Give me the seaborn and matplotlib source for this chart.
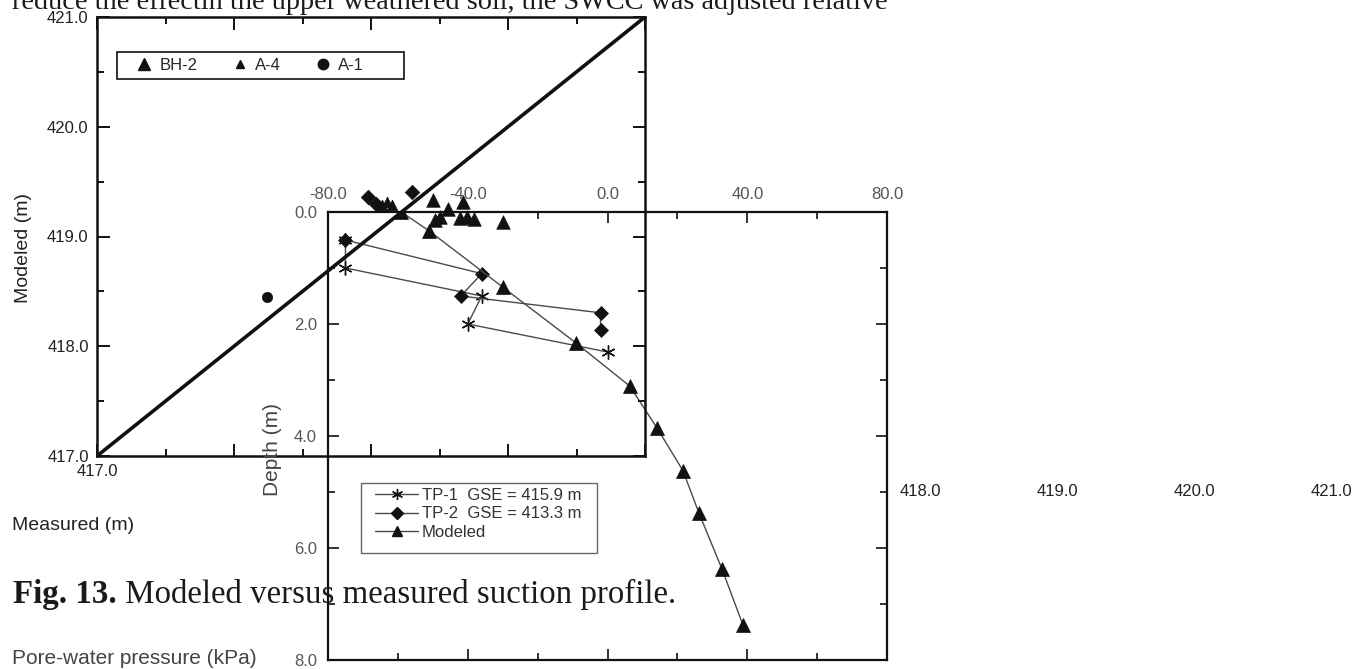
import matplotlib
matplotlib.use("Agg")
import matplotlib.pyplot as plt
import seaborn as sns
from matplotlib.ticker import MultipleLocator, FuncFormatter
from matplotlib.lines import Line2D
from matplotlib.patches import Rectangle
from matplotlib.transforms import offset_copy

# ---- water-table elevation (m): measured vs modeled ----
bh2_measured = [419.45, 419.67, 419.56, 419.50, 419.47, 419.65, 419.70, 419.75, 419.96]
bh2_modeled = [419.33, 419.31, 419.25, 419.18, 419.15, 419.17, 419.18, 419.16, 419.13]
a4_measured = [419.08, 419.12, 419.15]
a4_modeled = [419.29, 419.31, 419.29]
diamond_measured = [418.98, 419.30, 419.04]
diamond_modeled = [419.36, 419.41, 419.30]
a1_measured = [418.24]
a1_modeled = [418.45]
one_to_one = [417.0, 421.0]
elev_ticks = [417.0, 418.0, 419.0, 420.0, 421.0]

# ---- suction profile: pore-water pressure (kPa) vs depth (m) ----
tp1_pressure = [-75, -75, -36, -40, 0]
tp1_depth = [0.5, 1.0, 1.5, 2.0, 2.5]
tp2_pressure = [-75, -36, -42, -2, -2]
tp2_depth = [0.5, 1.1, 1.5, 1.8, 2.1]
mod_pressure = [-59, -51, -30, -9, 6.4, 14.2, 21.6, 26.2, 32.8, 38.8]
mod_depth = [0.0, 0.34, 1.34, 2.34, 3.11, 3.86, 4.62, 5.38, 6.38, 7.38]
profile_labels = ["TP-1  GSE = 415.9 m", "TP-2  GSE = 413.3 m", "Modeled"]

sns.set_style("white")
plt.rcParams["font.family"] = ["Liberation Sans", "DejaVu Sans"]

W, H = 1354, 669
fig = plt.figure(figsize=(W / 100, H / 100), dpi=100)
fig.patch.set_facecolor("white")


def fx(px):
    return px / W


def fy(py):
    return 1 - py / H


ink = "#111111"
grey_line = "#4a4a4a"
grey_text = "#555555"

ax2 = fig.add_axes([fx(328), fy(660), 559 / W, 448 / H], zorder=1)
ax1 = fig.add_axes([fx(97), fy(456), 548 / W, 439 / H], zorder=2)
for ax in (ax1, ax2):
    ax.set_facecolor("none")

# ---------- suction profile ----------
sns.lineplot(x=tp1_pressure, y=tp1_depth, sort=False, estimator=None, orient="y",
             ax=ax2, color=grey_line, lw=1.0, marker=(6, 2, 0), markersize=10,
             mec=ink, mew=1.0, legend=False)
sns.lineplot(x=tp2_pressure, y=tp2_depth, sort=False, estimator=None, orient="y",
             ax=ax2, color=grey_line, lw=1.0, marker="D", markersize=7.5,
             mfc=ink, mec=ink, mew=0.5, legend=False)
sns.lineplot(x=mod_pressure, y=mod_depth, sort=False, estimator=None, orient="y",
             ax=ax2, color=grey_line, lw=1.0, marker="^", markersize=10,
             mfc=ink, mec=ink, mew=0.5, legend=False)

ax2.set_xlim(-80, 80)
ax2.set_ylim(8, 0)
ax2.xaxis.set_major_locator(MultipleLocator(40))
ax2.xaxis.set_minor_locator(MultipleLocator(20))
ax2.yaxis.set_major_locator(MultipleLocator(2))
ax2.yaxis.set_minor_locator(MultipleLocator(1))
fmt1 = FuncFormatter(lambda v, p: "0.0" if abs(v) < 1e-9 else f"{v:.1f}")
ax2.xaxis.set_major_formatter(fmt1)
ax2.yaxis.set_major_formatter(fmt1)
ax2.tick_params(which="both", direction="in", top=True, bottom=True, left=True,
                right=True, labeltop=True, labelbottom=False, colors=ink,
                labelcolor=grey_text, labelsize=12, width=1.2)
ax2.tick_params(which="major", length=8, pad=7)
ax2.tick_params(which="minor", length=5)
ax2.tick_params(axis="y", pad=8)
for s in ax2.spines.values():
    s.set_linewidth(1.6)
    s.set_color(ink)
ax2.set_xlabel("")
ax2.set_ylabel("")

prof_handles = [
    Line2D([], [], color=grey_line, lw=1.0, marker=(6, 2, 0), markersize=8, mec=ink, mew=1.0),
    Line2D([], [], color=grey_line, lw=1.0, marker="D", markersize=6, mfc=ink, mec=ink),
    Line2D([], [], color=grey_line, lw=1.0, marker="^", markersize=7.5, mfc=ink, mec=ink),
]
leg2 = ax2.legend(prof_handles, profile_labels, loc="upper left",
                  bbox_to_anchor=(fx(375), fy(488)), bbox_transform=fig.transFigure,
                  frameon=False, fontsize=12, handlelength=2.6, handletextpad=0.2,
                  borderpad=0, borderaxespad=0, labelspacing=0.2)
for t in leg2.get_texts():
    t.set_color("#333333")
fig.add_artist(Rectangle((fx(361), fy(553)), 236 / W, 70 / H, transform=fig.transFigure,
                         fill=False, edgecolor="#666666", lw=1.0))

# ---------- measured vs modeled elevation ----------
sns.lineplot(x=one_to_one, y=one_to_one, ax=ax1, color=ink, lw=2.6, legend=False)
sns.scatterplot(x=bh2_measured, y=bh2_modeled, ax=ax1, marker="^", s=95,
                color=ink, edgecolor=ink, linewidth=0.5, legend=False)
sns.scatterplot(x=a4_measured, y=a4_modeled, ax=ax1, marker="^", s=60,
                color=ink, edgecolor=ink, linewidth=0.5, legend=False)
sns.scatterplot(x=diamond_measured, y=diamond_modeled, ax=ax1, marker="D", s=55,
                color=ink, edgecolor=ink, linewidth=0.5, legend=False)
sns.scatterplot(x=a1_measured, y=a1_modeled, ax=ax1, marker="o", s=55,
                color=ink, edgecolor=ink, linewidth=0.5, legend=False)

ax1.set_xlim(417, 421)
ax1.set_ylim(417, 421)
ax1.xaxis.set_major_locator(MultipleLocator(1))
ax1.xaxis.set_minor_locator(MultipleLocator(0.5))
ax1.yaxis.set_major_locator(MultipleLocator(1))
ax1.yaxis.set_minor_locator(MultipleLocator(0.5))
ax1.xaxis.set_major_formatter(FuncFormatter(lambda v, p: f"{v:.1f}" if abs(v - 417) < 1e-9 else ""))
ax1.yaxis.set_major_formatter(FuncFormatter(lambda v, p: f"{v:.1f}"))
ax1.tick_params(which="both", direction="in", top=True, bottom=True, left=True,
                right=True, colors=ink, labelcolor="#222222", labelsize=12, width=1.4)
ax1.tick_params(which="major", length=9, pad=6)
ax1.tick_params(which="minor", length=5)
for s in ax1.spines.values():
    s.set_linewidth(1.8)
    s.set_color(ink)
ax1.set_xlabel("")
ax1.set_ylabel("")

# remaining measured-axis labels sit off to the right of the figure body
shift = offset_copy(ax1.transData, fig=fig, x=686, y=-36, units="dots")
for v in elev_ticks[1:]:
    ax1.text(v, elev_ticks[0], f"{v:.1f}", transform=shift, ha="center", va="center",
             fontsize=12, color="#222222", clip_on=False)

elev_handles = [
    Line2D([], [], ls="none", marker="^", markersize=9, mfc=ink, mec=ink),
    Line2D([], [], ls="none", marker="^", markersize=6, mfc=ink, mec=ink),
    Line2D([], [], ls="none", marker="o", markersize=7.5, mfc=ink, mec=ink),
]
ax1.legend(elev_handles, ["BH-2", "A-4", "A-1"], loc="center left",
           bbox_to_anchor=(fx(136), fy(65.5)), bbox_transform=fig.transFigure,
           frameon=False, ncol=3, fontsize=12, handlelength=1.0, handletextpad=0.4,
           columnspacing=2.05, borderpad=0, borderaxespad=0)
fig.add_artist(Rectangle((fx(117), fy(79)), 287 / W, 27 / H, transform=fig.transFigure,
                         fill=False, edgecolor=ink, lw=1.2))

# ---------- axis titles ----------
fig.text(fx(24), fy(248), "Modeled (m)", rotation=90, ha="center", va="center",
         fontsize=14, color="#222222")
fig.text(fx(12), fy(525), "Measured (m)", ha="left", va="center", fontsize=14,
         color="#222222")
fig.text(fx(272), fy(450), "Depth (m)", rotation=90, ha="center", va="center",
         fontsize=15, color="#444444")
fig.text(fx(12), fy(658), "Pore-water pressure (kPa)", ha="left", va="center",
         fontsize=15, color="#444444")

# ---------- surrounding page text ----------
serif = ["Liberation Serif", "DejaVu Serif"]
fig.text(fx(12), fy(9), "reduce the effectin the upper weathered soil, the SWCC was adjusted relative",
         ha="left", va="baseline", fontsize=20.3, family=serif, color="#1a1a1a")
cap_bold = fig.text(fx(13), fy(603), "Fig. 13.", ha="left", va="baseline", fontsize=23.7,
                    family=serif, weight="bold", color="#1a1a1a")
ax1.annotate(" Modeled versus measured suction profile.", xy=(1, 0), xycoords=cap_bold,
             ha="left", va="bottom", fontsize=23.7, family=serif, color="#1a1a1a",
             annotation_clip=False)

fig.savefig("out.png", dpi=100, facecolor="white")
